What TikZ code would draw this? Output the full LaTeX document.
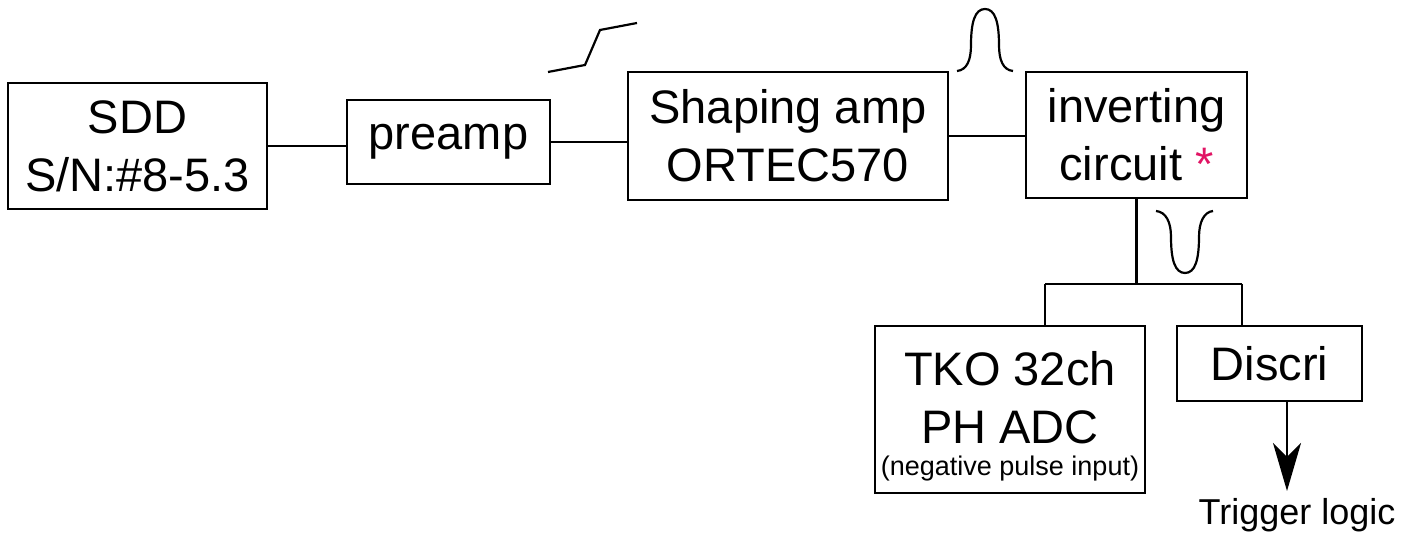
\documentclass[tikz,border=0pt]{standalone}
\usepackage{fontspec}
\setmainfont{Liberation Sans}
\usetikzlibrary{arrows.meta}
\definecolor{starred}{RGB}{225,20,100}

\begin{document}
\begin{tikzpicture}[x=0.5pt, y=-0.5pt, line width=1.1pt,
  every node/.style={inner sep=0pt, align=center, font=\fontsize{23.5}{29}\selectfont},
  unit/.style={draw, rectangle}]

\useasboundingbox (0,0) rectangle (1415,533);

\node[unit, minimum width=129.5pt, minimum height=63pt] (sdd) at (137.5,146) {SDD\\S/N:\#8-5.3};
\node[unit, minimum width=101.5pt, minimum height=42pt] (preamp) at (448.5,142) {preamp};
\node[unit, minimum width=160pt, minimum height=64pt] (shaping) at (788,136) {Shaping amp\\ORTEC570};
\node[unit, minimum width=110.5pt, minimum height=63pt] (inv) at (1136.5,135) {inverting\\circuit {\color{starred}*}};
\node[unit, minimum width=135pt, minimum height=83.5pt] (tko) at (1010,409.5)
  {\rule{0pt}{24pt}TKO 32ch\\PH ADC\\[-13pt]{\fontsize{13.5}{15}\selectfont (negative pulse input)}};
\node[unit, minimum width=92.5pt, minimum height=37.5pt] (discri) at (1269.5,363.5) {Discri};
\node[font=\fontsize{18}{20}\selectfont] (trigger) at (1297,515) {Trigger logic};

\coordinate (fl) at (1045,284);
\coordinate (fr) at (1242,284);
\coordinate (tip) at (1287,491);

\draw (sdd.east) -- (sdd.east -| preamp.west);
\draw (preamp.east) -- (preamp.east -| shaping.west);
\draw (shaping.east) -- (shaping.east -| inv.west);
\draw (inv.south) -- (inv.south |- fl);
\draw (fl) -- (fr);
\draw (fl) -- (fl |- tko.north);
\draw (fr) -- (fr |- discri.north);
\draw[-{Stealth[length=24pt, width=14pt, inset=7pt]}] (discri.south -| tip) -- (tip);

\draw (548,72) -- (585,65) -- (600,30) -- (637,23);
\draw (957,71) .. controls (967,70) and (971,60) .. (971,45) .. controls (971,22) and (975,9) .. (985,9)
  .. controls (995,9) and (999,22) .. (999,45) .. controls (999,60) and (1003,70) .. (1013,71);
\draw (1156,211) .. controls (1166,212) and (1171,222) .. (1171,237) .. controls (1171,260) and (1175,273) .. (1185,273)
  .. controls (1195,273) and (1199,260) .. (1199,237) .. controls (1199,222) and (1204,212) .. (1213,211);

\end{tikzpicture}
\end{document}
